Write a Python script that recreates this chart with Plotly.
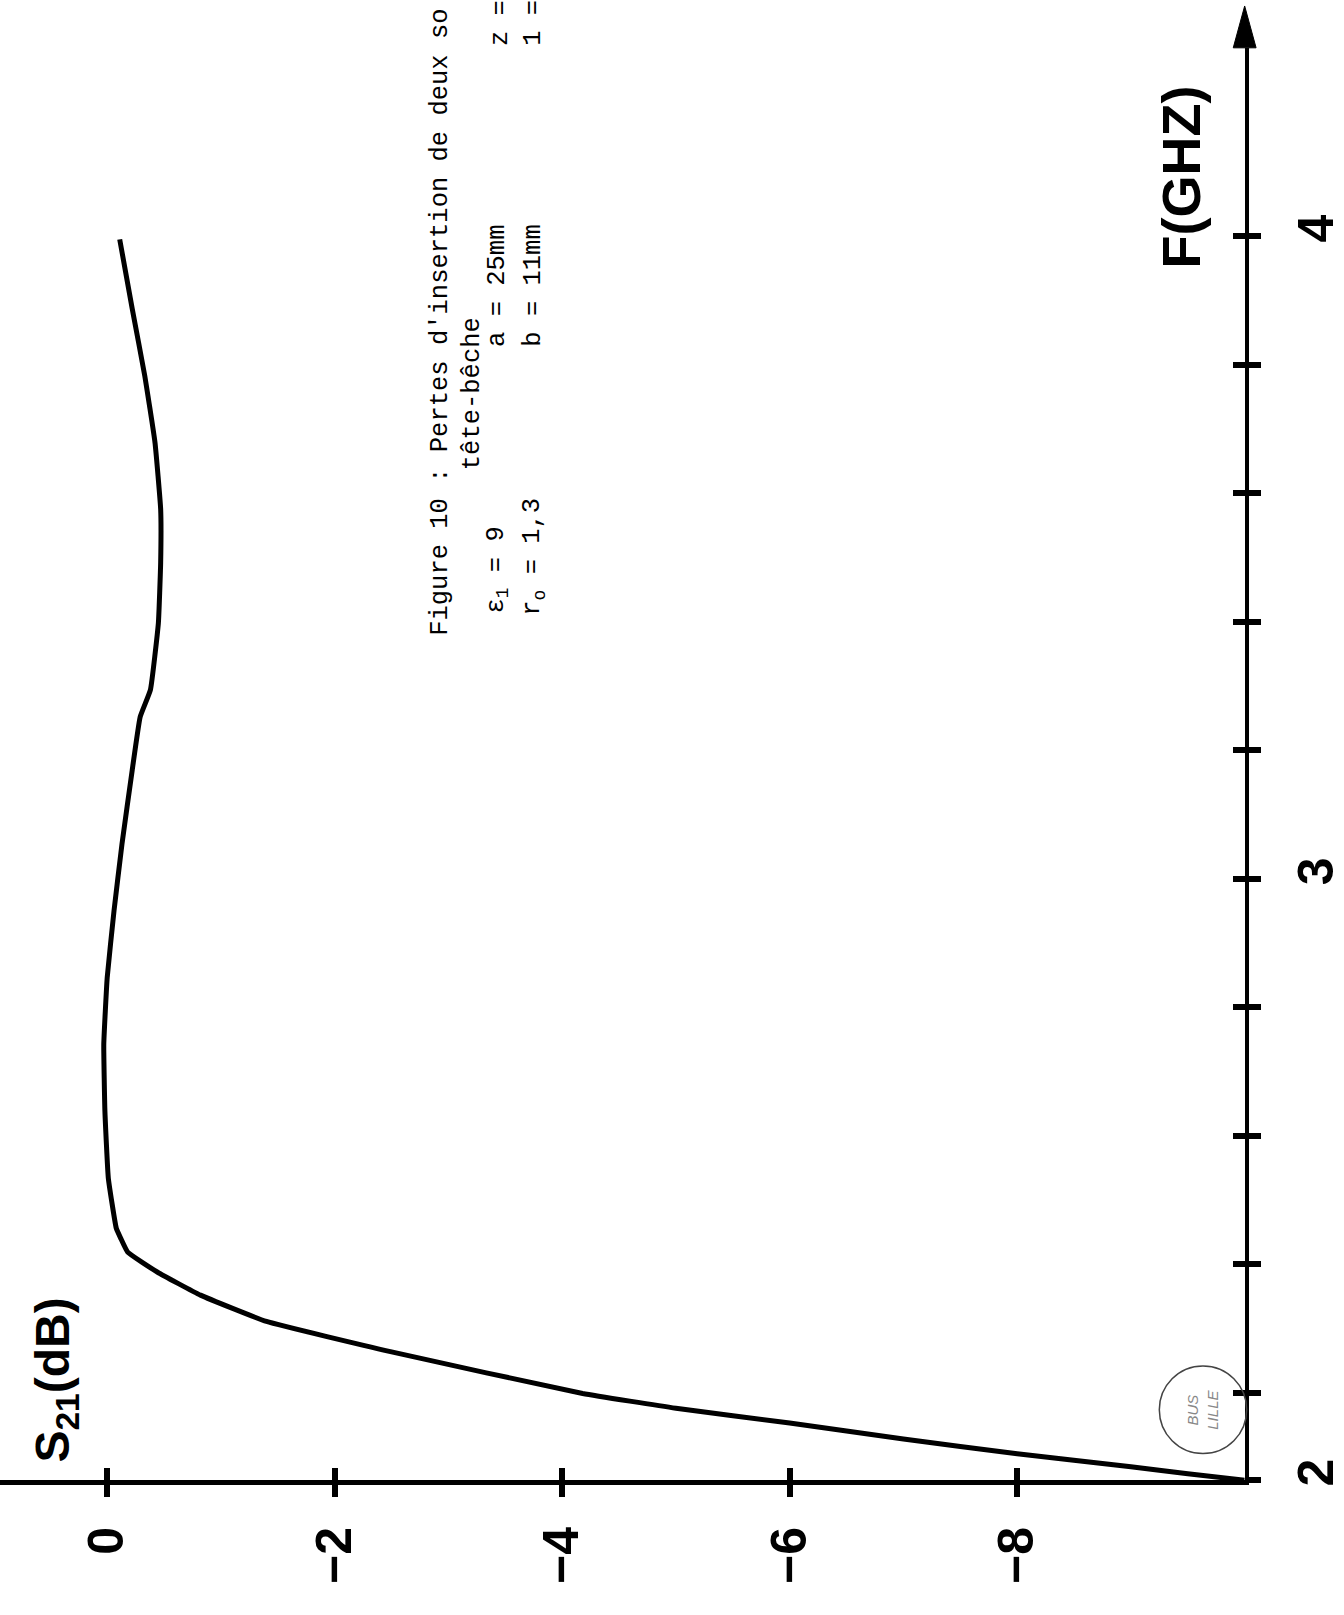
import plotly.graph_objects as go

W, H = 1344, 1615

# ---- data ----
freq_ghz = [2.064, 2.074, 2.085, 2.105, 2.128, 2.153, 2.176, 2.199, 2.264, 2.311, 2.352,
            2.388, 2.419, 2.44, 2.456, 2.534, 2.638, 2.742, 2.846, 2.95, 3.054,
            3.169, 3.252, 3.294, 3.398, 3.492, 3.575, 3.679, 3.783, 3.887, 3.995]
s21_db = [-10.0, -9.5, -9.0, -8.0, -7.0, -6.0, -5.0, -4.18, -2.49, -1.40, -0.82,
          -0.44, -0.18, -0.12, -0.08, -0.01, 0.02, 0.03, 0.0, -0.06, -0.13,
          -0.22, -0.29, -0.38, -0.45, -0.47, -0.47, -0.42, -0.33, -0.22, -0.11]

s21_tickvals = [0, -2, -4, -6, -8]
s21_ticktext = ["0", "\u22122", "\u22124", "\u22126", "\u22128"]
f_major_text = ["2", "3", "4"]
f_minor_vals = [2.2, 2.4, 2.6, 2.8, 3.2, 3.4, 3.6, 3.8]

# ---- page geometry (pixels on the scanned, rotated page) ----
PX_PER_DB = 114.6
X_ZERO = 108.0          # pixel column of S21 = 0
X_AXIS = X_ZERO + 10 * PX_PER_DB   # frequency axis (S21 = -10)
PX_PER_GHZ = 645.0
Y_F4 = 237.0            # pixel row of F = 4 GHz
F_ORIGIN = 2.064        # frequency at the axes corner (labelled "2" on the drawing)
Y_TOP = 48.0            # top of the axis line (base of arrow head)
Y_TIP = 6.0             # arrow tip

Y_CORNER = Y_F4 + (4.0 - F_ORIGIN) * PX_PER_GHZ
x_range = [X_ZERO / PX_PER_DB, -10.0]
y_range = [F_ORIGIN, 4.0 + (Y_F4 - Y_TOP) / PX_PER_GHZ]
x_domain = [0.0, X_AXIS / W]
y_domain = [(H - Y_CORNER) / H, 1 - Y_TOP / H]
f_major_vals = [F_ORIGIN, 3.0, 4.0]
f_all_vals = f_major_vals + f_minor_vals


def px(x):
    return x / W


def py(y):
    return 1 - y / H


BOLD = dict(family="Liberation Sans, Arial, sans-serif", size=50, color="black", weight="bold")
MONO = dict(family="Liberation Mono, Courier New, monospace", size=25.5, color="black")
TICK = dict(ticklen=12, tickwidth=6, tickcolor="black")

fig = go.Figure()
fig.add_trace(go.Scatter(
    x=s21_db, y=freq_ghz, mode="lines",
    line=dict(color="black", width=5, shape="spline", smoothing=0.35),
    hoverinfo="skip", showlegend=False,
))
# empty trace on overlay axes so the inner half of the cross ticks is drawn
fig.add_trace(go.Scatter(x=[None], y=[None], xaxis="x2", yaxis="y2",
                         mode="lines", hoverinfo="skip", showlegend=False))

common_axis = dict(showgrid=False, zeroline=False, fixedrange=True)

fig.update_layout(
    width=W, height=H,
    margin=dict(l=0, r=0, t=0, b=0),
    paper_bgcolor="white", plot_bgcolor="white",
    xaxis=dict(domain=x_domain, range=x_range, anchor="y", side="bottom",
               showline=True, linewidth=4.5, linecolor="black",
               ticks="outside", **TICK,
               tickvals=s21_tickvals, ticktext=s21_ticktext, tickangle=-90,
               tickfont=BOLD, ticklabelstandoff=10, **common_axis),
    yaxis=dict(domain=y_domain, range=y_range, anchor="x", side="right",
               showline=True, linewidth=4, linecolor="black",
               ticks="outside", **TICK,
               tickvals=f_major_vals, ticktext=f_major_text, tickangle=-90,
               minor=dict(tickvals=f_minor_vals, ticks="outside", showgrid=False, **TICK),
               tickfont=BOLD, ticklabelstandoff=12, **common_axis),
    xaxis2=dict(domain=x_domain, range=x_range, anchor="y2", overlaying="x", side="bottom",
                showline=False, ticks="inside", **TICK,
                tickvals=s21_tickvals, showticklabels=False, **common_axis),
    yaxis2=dict(domain=y_domain, range=y_range, anchor="x2", overlaying="y", side="right",
                showline=False, ticks="inside", **TICK,
                tickvals=f_all_vals, showticklabels=False, **common_axis),
)

# arrow head at top of the frequency axis
fig.add_shape(type="path", xref="paper", yref="paper",
              path=f"M {px(X_AXIS - 11.5)} {py(Y_TOP)} L {px(X_AXIS)} {py(Y_TIP)} "
                   f"L {px(X_AXIS + 11.5)} {py(Y_TOP)} Z",
              fillcolor="black", line=dict(color="black", width=1))

# library stamp
fig.add_shape(type="circle", xref="paper", yref="paper",
              x0=px(1212 - 44), x1=px(1212 + 44), y0=py(1415 + 44), y1=py(1415 - 44),
              line=dict(color="#444", width=1.5))

ann = []
# axis titles
ann.append(dict(x=px(1190), y=py(178), text="F(GHZ)", font=dict(BOLD, size=54)))
ann.append(dict(x=px(56), y=py(1470), text="S<sub>21</sub>(dB)",
                font=dict(BOLD, size=48), yanchor="bottom"))
# caption (typewritten)
cap = [
    (443, 640, "Figure 10 : Pertes d'insertion de deux so"),
    (476, 474, "t\u00eate-b\u00eache"),
    (501, 618, "\u03b5<sub>1</sub> = 9"),
    (501, 350, "a = 25mm"),
    (505, 48, "z ="),
    (538, 620, "r<sub>o</sub> = 1,3"),
    (538, 350, "b = 11mm"),
    (538, 48, "1 ="),
]
for cx, cy, t in cap:
    ann.append(dict(x=px(cx), y=py(cy), text=t, font=MONO, yanchor="bottom"))
# stamp text
ann.append(dict(x=px(1212), y=py(1415), text="<i>BUS<br>LILLE</i>",
                font=dict(family="Liberation Sans", size=15, color="#888")))

for a in ann:
    a.setdefault("xanchor", "center")
    a.setdefault("yanchor", "middle")
    fig.add_annotation(xref="paper", yref="paper", showarrow=False, textangle=-90, **a)

fig.write_html("out.html")
